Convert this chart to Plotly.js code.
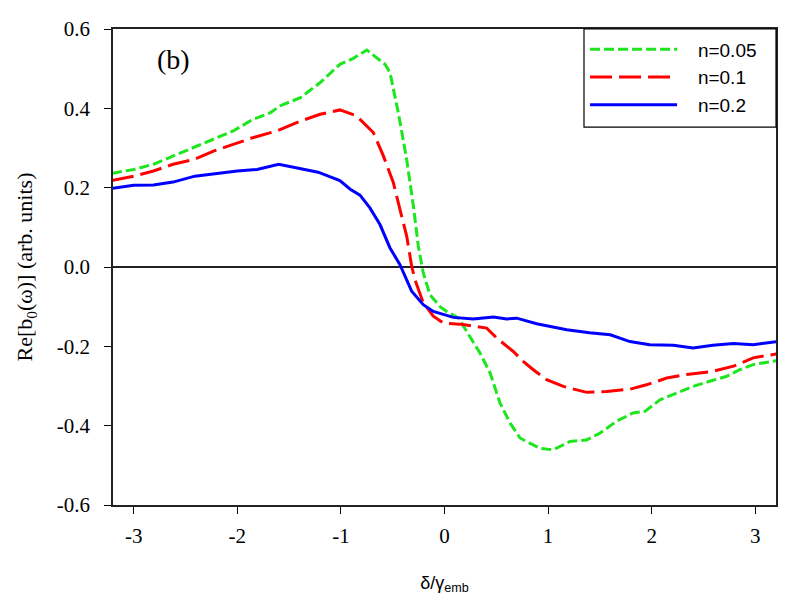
<!DOCTYPE html>
<html>
<head>
<meta charset="utf-8">
<script src="https://cdn.plot.ly/plotly-3.0.1.min.js"></script>
<style>
  body { margin: 0; background: #fff; }
  #chart { width: 804px; height: 609px; }
</style>
</head>
<body>
<div id="chart"></div>
<script>
// n = 0.05 (green, short dashes)
const xGreen = [-3.21, -3.0, -2.81, -2.62, -2.43, -2.2, -2.04, -1.85, -1.68, -1.59, -1.39, -1.2, -1.01, -0.88, -0.75,
  -0.574, -0.526, -0.446, -0.365, -0.30, -0.253, -0.205, -0.14, -0.043, 0.02, 0.133, 0.246, 0.343, 0.44, 0.536,
  0.632, 0.729, 0.793, 0.922, 1.05, 1.21, 1.37, 1.50, 1.66, 1.82, 1.935, 2.08, 2.24, 2.40, 2.56, 2.72, 2.85, 2.98, 3.21];
const yGreen = [0.236, 0.246, 0.259, 0.28, 0.30, 0.326, 0.343, 0.372, 0.389, 0.406, 0.427, 0.465, 0.511, 0.526, 0.547,
  0.511, 0.49, 0.389, 0.271, 0.153, 0.053, -0.015, -0.07, -0.1, -0.112, -0.128, -0.175, -0.217, -0.267, -0.343,
  -0.393, -0.431, -0.44, -0.457, -0.461, -0.44, -0.436, -0.419, -0.389, -0.368, -0.364, -0.335, -0.318, -0.301, -0.288, -0.276, -0.259, -0.246, -0.236];

// n = 0.1 (red, long dashes)
const xRed = [-3.21, -3.0, -2.81, -2.62, -2.42, -2.23, -2.04, -1.85, -1.62, -1.39, -1.2, -1.01, -0.85, -0.687, -0.59,
  -0.494, -0.43, -0.365, -0.317, -0.285, -0.205, -0.108, -0.012, 0.18, 0.407, 0.504, 0.664, 0.76, 0.857, 0.986,
  1.147, 1.372, 1.566, 1.79, 1.95, 2.145, 2.34, 2.59, 2.79, 2.98, 3.21];
const yRed = [0.218, 0.229, 0.242, 0.259, 0.271, 0.292, 0.309, 0.326, 0.343, 0.368, 0.385, 0.396, 0.381, 0.339, 0.28,
  0.213, 0.145, 0.078, 0.002, -0.032, -0.09, -0.124, -0.141, -0.145, -0.154, -0.179, -0.213, -0.238, -0.259, -0.284,
  -0.301, -0.316, -0.314, -0.308, -0.297, -0.28, -0.271, -0.263, -0.25, -0.229, -0.219];

// n = 0.2 (blue, solid)
const xBlue = [-3.21, -3.0, -2.81, -2.62, -2.41, -2.2, -2.0, -1.81, -1.60, -1.41, -1.22, -1.01, -0.91, -0.816, -0.72,
  -0.623, -0.526, -0.43, -0.317, -0.205, -0.108, 0.085, 0.278, 0.471, 0.60, 0.697, 0.89, 1.18, 1.40, 1.60,
  1.79, 1.98, 2.21, 2.40, 2.59, 2.79, 2.98, 3.21];
const yBlue = [0.198, 0.206, 0.207, 0.214, 0.229, 0.236, 0.242, 0.246, 0.259, 0.249, 0.239, 0.218, 0.196, 0.181, 0.149,
  0.107, 0.048, 0.006, -0.061, -0.095, -0.112, -0.127, -0.131, -0.126, -0.131, -0.129, -0.143, -0.158, -0.166, -0.171,
  -0.188, -0.196, -0.197, -0.204, -0.197, -0.193, -0.196, -0.188];

const seriesNames = ['n=0.05', 'n=0.1', 'n=0.2'];
const xTicks = [-3, -2, -1, 0, 1, 2, 3];
const yTicks = [-0.6, -0.4, -0.2, 0.0, 0.2, 0.4, 0.6];
const yTickText = ['-0.6', '-0.4', '-0.2', '0.0', '0.2', '0.4', '0.6'];

const serif = 'Liberation Serif';
const sans = 'Liberation Sans';
const pad = '\u00a0\u00a0\u00a0';  // gap between legend line and label

const traces = [
  { x: xGreen, y: yGreen, name: pad + seriesNames[0], legendgroup: 'a', mode: 'lines',
    line: { color: '#1ee61e', width: 3, dash: '10px,4px' } },
  { x: xRed, y: yRed, name: pad + seriesNames[1], legendgroup: 'b', mode: 'lines',
    line: { color: '#ff0000', width: 3, dash: '22px,7px' } },
  { x: xBlue, y: yBlue, name: pad + seriesNames[2], legendgroup: 'c', mode: 'lines',
    line: { color: '#0000ff', width: 3 } }
];

const layout = {
  width: 804, height: 609,
  margin: { l: 113, r: 28, t: 29, b: 104 },
  paper_bgcolor: '#fff', plot_bgcolor: '#fff',
  showlegend: true,
  legend: {
    x: 0.712, y: 0.997, xanchor: 'left', yanchor: 'top',
    bgcolor: 'rgba(0,0,0,0)', borderwidth: 0,
    font: { family: sans, size: 19, color: '#000' },
    itemwidth: 87, tracegroupgap: 0
  },
  // legend frame
  shapes: [
    { type: 'rect', xref: 'paper', yref: 'paper', x0: 0.7104, x1: 1, y0: 0.794, y1: 1,
      line: { color: '#000', width: 1.2 }, fillcolor: '#fff', layer: 'above' }
  ],
  xaxis: {
    range: [-3.2, 3.2], tickvals: xTicks, ticktext: xTicks.map(String),
    showgrid: false, zeroline: false,
    showline: true, linecolor: '#222', linewidth: 1.8, mirror: true,
    ticks: 'outside', ticklen: 7, tickcolor: '#000', tickwidth: 1, ticklabelstandoff: 4,
    tickfont: { family: serif, size: 21, color: '#000' },
    title: { text: 'δ/γ<sub>emb</sub>', font: { family: sans, size: 18, color: '#000' }, standoff: 29 }
  },
  yaxis: {
    range: [-0.6, 0.6], tickvals: yTicks, ticktext: yTickText,
    showgrid: false, zeroline: true, zerolinecolor: '#222', zerolinewidth: 1.3,
    showline: true, linecolor: '#222', linewidth: 1.8, mirror: true,
    ticks: 'outside', ticklen: 7, tickcolor: '#000', tickwidth: 1, ticklabelstandoff: 10,
    tickfont: { family: serif, size: 21, color: '#000' },
    title: { text: 'Re[b<sub>0</sub>(ω)] (arb. units)', font: { family: serif, size: 22, color: '#000' }, standoff: 18 }
  },
  annotations: [
    { text: '(b)', xref: 'paper', yref: 'paper', x: 0.063, y: 0.936, xanchor: 'left', yanchor: 'middle',
      showarrow: false, font: { family: serif, size: 28, color: '#000' } }
  ]
};

Plotly.newPlot('chart', traces, layout, { staticPlot: true });
</script>
</body>
</html>
